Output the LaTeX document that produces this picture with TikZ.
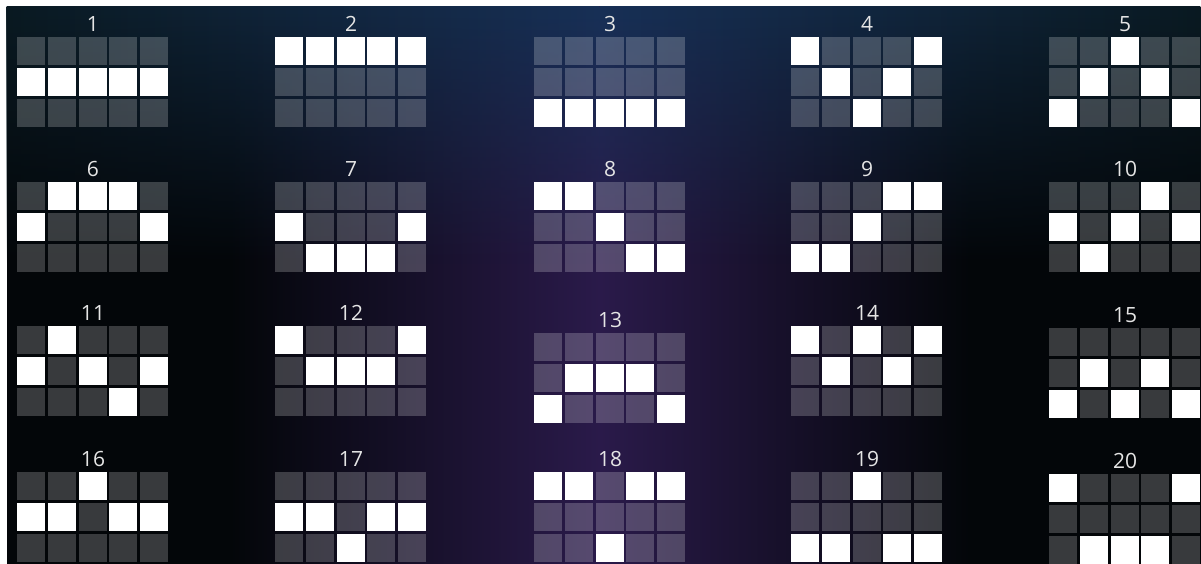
\documentclass[tikz,border=0pt]{standalone}
\usepackage{fontspec}
\setmainfont{Open Sans}
\usetikzlibrary{fadings}

\definecolor{bgedge}{HTML}{030609}
\definecolor{bgmid}{HTML}{2A1A4A}
\definecolor{bgtop}{HTML}{173056}
\definecolor{bgtopedge}{HTML}{0A1A22}

\begin{document}
\begin{tikzpicture}[
        x=1pt, y=1pt,
        cell/.style={rectangle, minimum size=28pt, inner sep=0pt, fill=white, fill opacity=0.21},
        lit/.style={rectangle, minimum size=28pt, inner sep=0pt, fill=white},
        num/.style={text=white!80!gray, font=\fontsize{21}{21}\selectfont, inner sep=0pt}
    ]
        \useasboundingbox (0,0) rectangle (1201,564);

        % Background
        \fill[white] (0,0) rectangle (1201,564);
        \fill[bgedge] (7,0) rectangle (1201,557);
        \shade[left color=bgedge, right color=bgmid] (230,0) rectangle (600,557);
        \shade[left color=bgmid, right color=bgedge] (600,0) rectangle (970,557);
        \shade[left color=bgtopedge, right color=bgtop, path fading=south] (7,300) rectangle (600,557);
        \shade[left color=bgtop, right color=bgtopedge, path fading=south] (600,300) rectangle (1201,557);

        % Paylines: number / left / top / lit row of each reel
        \foreach \n/\gx/\gy/\pat in {
            1/17/37/{2,2,2,2,2}, 2/275/37/{1,1,1,1,1}, 3/534/37/{3,3,3,3,3},
            4/791/37/{1,2,3,2,1}, 5/1049/37/{3,2,1,2,3},
            6/17/182/{2,1,1,1,2}, 7/275/182/{2,3,3,3,2}, 8/534/182/{1,1,2,3,3},
            9/791/182/{3,3,2,1,1}, 10/1049/182/{2,3,2,1,2},
            11/17/326/{2,1,2,3,2}, 12/275/326/{1,2,2,2,1}, 13/534/333/{3,2,2,2,3},
            14/791/326/{1,2,1,2,1}, 15/1049/328/{3,2,3,2,3},
            16/17/472/{2,2,1,2,2}, 17/275/472/{2,2,3,2,2}, 18/534/472/{1,1,3,1,1},
            19/791/472/{3,3,1,3,3}, 20/1049/474/{1,3,3,3,1}} {
            \node[num] (line\n) at (\gx+76, 564-\gy+13) {\n};
            \foreach \lit [count=\col] in \pat {
                \foreach \row in {1,2,3} {
                    \pgfmathsetmacro{\cx}{\gx+14+(\col-1)*30.75}
                    \pgfmathsetmacro{\cy}{564-\gy-14-(\row-1)*31}
                    \ifnum\row=\lit
                        \node[lit] (line\n-\col-\row) at (\cx,\cy) {};
                    \else
                        \node[cell] (line\n-\col-\row) at (\cx,\cy) {};
                    \fi
                }
            }
        }
    \end{tikzpicture}
\end{document}
